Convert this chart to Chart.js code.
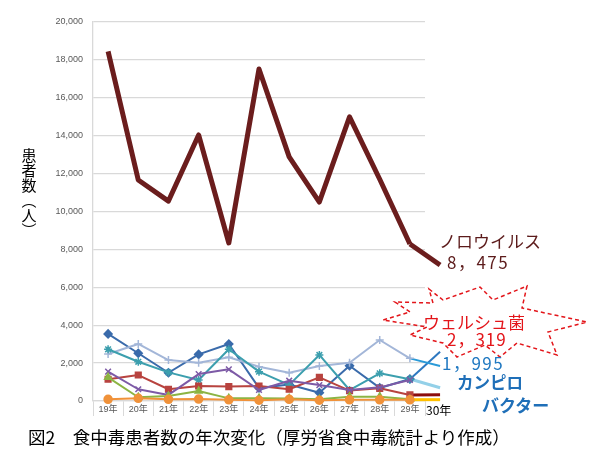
<!DOCTYPE html>
<html><head><meta charset="utf-8">
<script src="https://cdn.jsdelivr.net/npm/chart.js@4/dist/chart.umd.min.js"></script>
<style>
html,body{margin:0;padding:0;background:#fff;}
#wrap{position:relative;width:600px;height:451px;overflow:hidden;}
canvas{position:absolute;left:0;top:0;}
.t{position:absolute;white-space:nowrap;line-height:1;font-family:"Noto Sans CJK JP","Noto Sans",sans-serif;}
.v{position:absolute;width:24px;text-align:center;font-family:"Noto Sans CJK JP",sans-serif;}
</style>
</head><body>
<div id="wrap">
<canvas id="c" width="600" height="451"></canvas>
<svg width="600" height="451" style="position:absolute;left:0;top:0">
<polygon points="429,289 443,300 480,287 493,300 527,286 522,308 587,322 548,332 557,355 517,343 500,357 485,345 457,357 443,343 410,335 427,327 383,320 410,312 395,302 433,303" fill="none" stroke="#e3151a" stroke-width="1.5" stroke-dasharray="4,3"/>
</svg>
<div class="v" style="left:17px;top:147px;font-size:15px;line-height:15px;color:#000">患<br>者<br>数<br>︵<br>人<br>︶</div>
<div class="t" style="left:439px;top:232px;font-size:17px;color:#5c1b1b">ノロウイルス</div>
<div class="t" style="left:447px;top:253px;font-size:17px;color:#5c1b1b;letter-spacing:1.5px">8，475</div>
<div class="t" style="left:423px;top:313px;font-size:17px;color:#e3151a">ウェルシュ菌</div>
<div class="t" style="left:447px;top:330px;font-size:17px;color:#e3151a;letter-spacing:1px">2，319</div>
<div class="t" style="left:442px;top:354px;font-size:17px;color:#1f78c1;letter-spacing:1.5px">1，995</div>
<div class="t" style="left:457px;top:374px;font-size:16.5px;color:#1f6fb8;font-weight:bold">カンピロ</div>
<div class="t" style="left:482px;top:396px;font-size:17px;color:#1f6fb8;font-weight:bold">バクター</div>
<div class="t" style="left:426px;top:404px;font-size:12px;color:#000">30年</div>
<div class="t" style="left:28px;top:428px;font-size:17.5px;color:#000">図2　食中毒患者数の年次変化（厚労省食中毒統計より作成）</div>
</div>
<script>
const years = ['19年','20年','21年','22年','23年','24年','25年','26年','27年','28年','29年'];
const yTicks = {min:0, max:20000, step:2000};

const norovirus   = [18450, 11660, 10550, 14040, 8340, 17520, 12880, 10500, 14990, 11700, 8285];
const salmonella  = [3540, 2520, 1490, 2460, 3010, 690, 870, 440, 1860, 690, 1160];
const campylo     = [2480, 3010, 2160, 2020, 2310, 1810, 1490, 1850, 2020, 3220, 2250];
const welchii     = [2730, 2070, 1510, 1110, 2730, 1550, 850, 2430, 580, 1460, 1150];
const staph       = [1150, 1370, 620, 790, 760, 790, 620, 1250, 550, 670, 320];
const ecoli       = [1550, 620, 320, 1420, 1670, 580, 1070, 840, 580, 720, 1110];
const vibrio      = [1250, 200, 260, 530, 140, 150, 130, 90, 230, 230, 90];
const cereus      = [90, 140, 90, 100, 60, 40, 90, 40, 60, 60, 60];

// 29年 -> 30年 hand-drawn extensions (positions 10 and 11 on the year axis)
const extIdx    = [10, 11];
const extNoro   = [8285, 7180];
const extCampy  = [2250, 1850];
const extWelch  = [1150, 2600];
const extSalmo  = [1160, 700];
const extStaph  = [320, 330];
const extYellow = [70, 70];

function ext(v){ return v.map((y,i)=>({x:extIdx[i], y})); }

function line(data, color, style, width, radius, xAxisID){
  return {data, xAxisID:xAxisID||'x', borderColor:color, backgroundColor:color, borderWidth:width||2,
    pointStyle:style||false, pointRadius:radius===undefined?3.5:radius, pointBorderWidth:1.5,
    pointBorderColor:color, pointBackgroundColor:color, tension:0, clip:false, fill:false};
}

const datasets = [
  line(cereus, '#f0923a', 'circle', 2, 4),
  line(vibrio, '#8cb443', 'triangle', 2, 4),
  line(ecoli, '#7d5aa6', 'crossRot', 2, 4),
  line(staph, '#b8433f', 'rect', 2, 4),
  line(welchii, '#3c9fae', 'star', 2, 4),
  line(campylo, '#a3b6d8', 'cross', 2, 4),
  line(salmonella, '#3a6bab', 'rectRot', 2, 4),
  line(ext(extYellow), '#ffc000', false, 3, 0, 'x2'),
  line(ext(extStaph), '#8b0d0d', false, 3, 0, 'x2'),
  line(ext(extSalmo), '#93d0e8', false, 3, 0, 'x2'),
  line(ext(extCampy), '#2a9ad8', false, 2, 0, 'x2'),
  line(ext(extWelch), '#2e78c0', false, 2, 0, 'x2'),
  line(norovirus, '#6b1d1d', false, 5, 0),
  line(ext(extNoro), '#6b1d1d', false, 5, 0, 'x2'),
];

new Chart(document.getElementById('c'), {
  type:'line',
  data:{labels:years, datasets},
  options:{
    responsive:false, animation:false,
    layout:{padding:{left:0, top:22, right:175, bottom:30}},
    plugins:{legend:{display:false}, tooltip:{enabled:false}},
    elements:{line:{borderJoinStyle:'round', borderCapStyle:'butt'}},
    scales:{
      x:{type:'category', offset:true,
        grid:{offset:true, drawOnChartArea:false, drawTicks:true, tickLength:15, color:'#d9d9d9', lineWidth:1},
        border:{display:true, color:'#d9d9d9', width:1.3},
        ticks:{padding:-12, maxRotation:0, autoSkip:false, color:'#595959',
          font:{size:9, family:'"Liberation Sans","Noto Sans CJK JP",sans-serif'}},
        afterFit(s){ s.height = 20; }
      },
      x2:{type:'linear', display:false, min:-0.5, max:years.length-0.5},
      y:{min:yTicks.min, max:yTicks.max,
        ticks:{stepSize:yTicks.step, padding:10, color:'#595959',
          font:{size:9, family:'"Liberation Sans",sans-serif'}},
        grid:{color:'#d9d9d9', lineWidth:1.3, drawTicks:false},
        border:{display:true, color:'#d9d9d9', width:1.3},
        afterFit(s){ s.width = 93; }
      }
    }
  }
});
</script>
</body></html>
